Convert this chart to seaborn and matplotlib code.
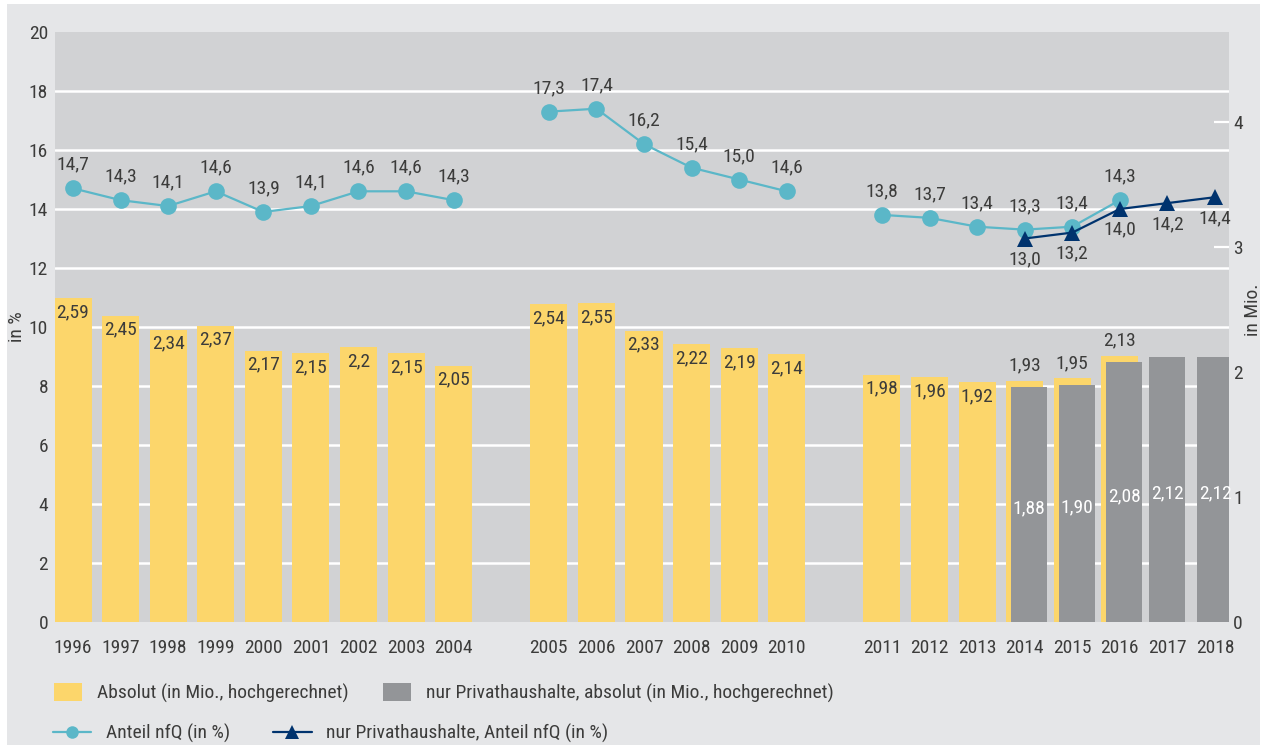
import matplotlib
matplotlib.use("Agg")
import numpy as np
import pandas as pd
import matplotlib.pyplot as plt
import seaborn as sns
from matplotlib import font_manager
from matplotlib.patches import Rectangle, Patch
from matplotlib.lines import Line2D

# --- Data ---
years = list(range(1996, 2019))

# Absolut (in Mio., hochgerechnet), 1996-2016
abs_years = list(range(1996, 2017))
abs_mio = [2.59, 2.45, 2.34, 2.37, 2.17, 2.15, 2.20, 2.15, 2.05,
           2.54, 2.55, 2.33, 2.22, 2.19, 2.14,
           1.98, 1.96, 1.92, 1.93, 1.95, 2.13]
abs_labels = ["2,59", "2,45", "2,34", "2,37", "2,17", "2,15", "2,2", "2,15", "2,05",
              "2,54", "2,55", "2,33", "2,22", "2,19", "2,14",
              "1,98", "1,96", "1,92", "1,93", "1,95", "2,13"]

# nur Privathaushalte, absolut (in Mio.), 2014-2018
priv_years = [2014, 2015, 2016, 2017, 2018]
priv_mio = [1.88, 1.90, 2.08, 2.12, 2.12]
priv_labels = ["1,88", "1,90", "2,08", "2,12", "2,12"]

# Anteil nfQ (in %), 1996-2016
anteil = [14.7, 14.3, 14.1, 14.6, 13.9, 14.1, 14.6, 14.6, 14.3,
          17.3, 17.4, 16.2, 15.4, 15.0, 14.6,
          13.8, 13.7, 13.4, 13.3, 13.4, 14.3]
# nur Privathaushalte, Anteil nfQ (in %), 2014-2018
priv_anteil = [13.0, 13.2, 14.0, 14.2, 14.4]

# --- Style ---
YELLOW = "#fcd66b"
GREY = "#939598"
PLOT_BG = "#d1d2d4"
OUTER_BG = "#e5e6e8"
TEAL = "#5bb7c8"
NAVY = "#00336e"
TXT = "#3c3c3b"

names = {f.name for f in font_manager.fontManager.ttflist}
font = "Lato"
for cand in ["Liberation Sans Narrow", "Roboto Condensed", "Open Sans Condensed", "Lato"]:
    if cand in names:
        font = cand
        break
FS = 14 if "Narrow" in font or "Condensed" in font else 12.5

sns.set_style("white")
plt.rcParams["font.family"] = [font, "DejaVu Sans"]
plt.rcParams["text.color"] = TXT
plt.rcParams["xtick.color"] = TXT
plt.rcParams["ytick.color"] = TXT


def slot(year):
    # one empty slot between the three blocks of years
    return years.index(year) + (year >= 2005) + (year >= 2011)


def block(year):
    return 0 if year < 2005 else (1 if year < 2011 else 2)


def de(v):
    return f"{v:.1f}".replace(".", ",")


W, H = 1269, 745
fig = plt.figure(figsize=(W / 100, H / 100), dpi=100)
fig.patch.set_facecolor("white")
fig.add_artist(Rectangle((7 / W, 0), (1260 - 7) / W, 1 - 4 / H, transform=fig.transFigure,
                         facecolor=OUTER_BG, edgecolor="none", zorder=-5))

ax1 = fig.add_axes([55 / W, 1 - 622 / H, 1174 / W, 590 / H])
ax1.set_facecolor(PLOT_BG)
ax2 = ax1.twinx()

BAR_W = 0.78
GREY_W = 0.757
GREY_SHIFT = 0.095  # grey bars sit slightly right of the yellow ones where both exist

df_abs = pd.DataFrame({"year": abs_years, "mio": abs_mio, "label": abs_labels})
df_abs["pos"] = [slot(y) for y in abs_years]

df_priv = pd.DataFrame({"year": priv_years, "mio": priv_mio, "label": priv_labels,
                        "pct": priv_anteil})
df_priv["pos"] = [slot(y) + (GREY_SHIFT if y in abs_years else 0) for y in priv_years]
df_priv["lpos"] = [slot(y) for y in priv_years]

sns.barplot(data=df_abs, x="pos", y="mio", native_scale=True, color=YELLOW, saturation=1,
            width=BAR_W, errorbar=None, linewidth=0, ax=ax2)
grey_step = np.diff(np.sort(df_priv["pos"].values)).min()
sns.barplot(data=df_priv, x="pos", y="mio", native_scale=True, color=GREY, saturation=1,
            width=GREY_W / grey_step, errorbar=None, linewidth=0, ax=ax2)

df_line = pd.DataFrame({"pos": [slot(y) for y in abs_years], "pct": anteil,
                        "grp": [block(y) for y in abs_years]})
sns.lineplot(data=df_line, x="pos", y="pct", units="grp", estimator=None, color=TEAL,
             lw=1.6, marker="o", markersize=12, markeredgewidth=0, legend=False, ax=ax1)
sns.lineplot(data=df_priv, x="lpos", y="pct", color=NAVY, lw=1.6, marker="^",
             markersize=12, markeredgewidth=0, legend=False, ax=ax1)

# value labels
for _, r in df_abs.iterrows():
    if r["year"] in priv_years:
        ax2.annotate(r["label"], (r["pos"], r["mio"]), xytext=(0, 11), textcoords="offset points",
                     ha="center", va="center", fontsize=FS, color=TXT)
    else:
        ax2.annotate(r["label"], (r["pos"], r["mio"]), xytext=(0, -10), textcoords="offset points",
                     ha="center", va="center", fontsize=FS, color=TXT)
for _, r in df_priv.iterrows():
    ax2.annotate(r["label"], (r["pos"], r["mio"] / 2), xytext=(0, -3), textcoords="offset points",
                 ha="center", va="center", fontsize=FS, color="white")
for _, r in df_line.iterrows():
    ax1.annotate(de(r["pct"]), (r["pos"], r["pct"]), xytext=(0, 17), textcoords="offset points",
                 ha="center", va="center", fontsize=FS, color=TXT)
for _, r in df_priv.iterrows():
    ax1.annotate(de(r["pct"]), (r["lpos"], r["pct"]), xytext=(0, -15), textcoords="offset points",
                 ha="center", va="center", fontsize=FS, color=TXT)

# axes
ax1.set_xlim(-0.378, 24.294)
ax1.set_ylim(0, 20)
ax2.set_ylim(0, 4.72)
ax1.set_yticks(range(0, 21, 2))
ax1.set_xticks([slot(y) for y in years])
ax1.set_xticklabels([str(y) for y in years])
ax1.tick_params(axis="y", length=0, pad=5, labelsize=FS)
ax1.tick_params(axis="x", length=0, pad=12, labelsize=FS)
ax1.yaxis.grid(True, color="white", lw=1.8)
ax1.set_axisbelow(True)
gl = ax1.get_ygridlines()
gl[0].set_visible(False)
gl[-1].set_visible(False)

ax2.set_yticks([0, 1, 2, 3, 4])
ax2.tick_params(axis="y", direction="in", length=11, width=1.6, color="white", pad=3,
                labelsize=FS, labelcolor=TXT)
ax2.yaxis.get_major_ticks()[0].tick2line.set_visible(False)
for ax in (ax1, ax2):
    ax.set_xlabel("")
    ax.set_ylabel("")
    for s in ax.spines.values():
        s.set_visible(False)

fig.text(17 / W, 1 - 327 / H, "in %", rotation=90, ha="center", va="center", fontsize=FS, color=TXT)
fig.text(1253 / W, 1 - 310 / H, "in Mio.", rotation=90, ha="center", va="center", fontsize=FS, color=TXT)

# legend
common = dict(loc="center left", frameon=False, borderpad=0, borderaxespad=0,
              fontsize=FS, labelcolor=TXT)
fig.legend(handles=[Patch(facecolor=YELLOW, edgecolor="none")],
           labels=["Absolut (in Mio., hochgerechnet)"], bbox_to_anchor=(54 / W, 1 - 693 / H),
           handlelength=1.45, handleheight=1.0, handletextpad=0.75, **common)
fig.legend(handles=[Patch(facecolor=GREY, edgecolor="none")],
           labels=["nur Privathaushalte, absolut (in Mio., hochgerechnet)"],
           bbox_to_anchor=(383 / W, 1 - 693 / H),
           handlelength=1.45, handleheight=1.0, handletextpad=0.75, **common)
fig.legend(handles=[Line2D([], [], color=TEAL, lw=1.6, marker="o", markersize=9, mew=0)],
           labels=["Anteil nfQ (in %)"], bbox_to_anchor=(53 / W, 1 - 733 / H),
           handlelength=1.95, handletextpad=0.8, **common)
fig.legend(handles=[Line2D([], [], color=NAVY, lw=1.6, marker="^", markersize=10, mew=0)],
           labels=["nur Privathaushalte, Anteil nfQ (in %)"], bbox_to_anchor=(273 / W, 1 - 733 / H),
           handlelength=2.0, handletextpad=0.7, **common)

fig.savefig("out.png", dpi=100, facecolor=fig.get_facecolor())
